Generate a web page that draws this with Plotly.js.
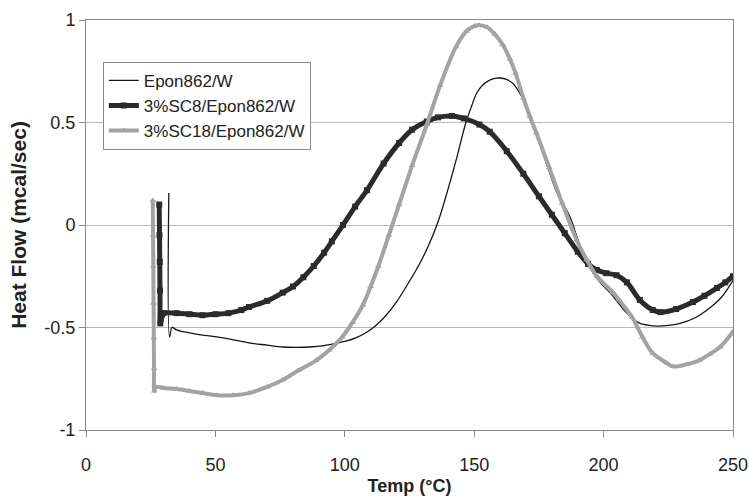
<!DOCTYPE html>
<html>
<head>
<meta charset="utf-8">
<script src="https://cdn.plot.ly/plotly-3.0.1.min.js"></script>
<style>
  html, body { margin: 0; padding: 0; background: #ffffff; }
  #chart { width: 749px; height: 496px; }
</style>
</head>
<body>
<div id="chart"></div>
<script>
// DSC cure exotherms: heat flow versus temperature for three resin systems

// Epon862/W (neat resin)
const eponTemp = [32.0, 32.3, 33.2, 35, 37.5, 43, 50.5, 57, 63, 70, 76, 81, 86.6, 92, 97, 100, 104, 108, 112, 116, 120, 124, 128, 132, 136, 140, 143.5, 146.8, 149, 151, 153.5, 156, 158, 160, 162.5, 165, 167, 169, 171.6, 174, 176, 179, 182, 184.5, 187, 189.5, 192, 196, 199, 202.5, 206, 209, 214, 217, 220.6, 225, 229.5, 235, 241, 245, 248, 250];
const eponFlow = [0.156, -0.546, -0.50, -0.512, -0.52, -0.533, -0.546, -0.56, -0.575, -0.586, -0.595, -0.597, -0.595, -0.588, -0.576, -0.568, -0.552, -0.527, -0.49, -0.44, -0.375, -0.295, -0.21, -0.11, 0.015, 0.18, 0.34, 0.50, 0.58, 0.644, 0.685, 0.707, 0.715, 0.717, 0.71, 0.69, 0.655, 0.61, 0.53, 0.44, 0.37, 0.26, 0.156, 0.10, 0.04, -0.05, -0.137, -0.235, -0.285, -0.33, -0.385, -0.43, -0.48, -0.488, -0.493, -0.49, -0.48, -0.455, -0.405, -0.36, -0.31, -0.27];

// 3%SC8/Epon862/W
const sc8Temp = [28.3, 28.4, 28.5, 28.6, 28.7, 28.9, 29.3, 30, 35, 40, 45, 50, 55, 60, 63, 70, 76, 80, 84, 88, 92, 95, 99.3, 104, 108.6, 115, 121, 126, 131.7, 136, 141.4, 146, 152, 156, 162.6, 169, 175, 180, 185, 190, 194, 197.4, 201, 205, 209, 214, 219, 222, 228, 234.5, 239, 243.8, 247, 250];
const sc8Flow = [0.10, -0.05, -0.18, -0.32, -0.48, -0.46, -0.44, -0.43, -0.43, -0.435, -0.44, -0.435, -0.43, -0.415, -0.40, -0.37, -0.33, -0.30, -0.255, -0.20, -0.135, -0.08, 0.0, 0.09, 0.17, 0.30, 0.40, 0.465, 0.505, 0.525, 0.532, 0.52, 0.49, 0.455, 0.36, 0.25, 0.14, 0.05, -0.04, -0.13, -0.19, -0.22, -0.235, -0.245, -0.28, -0.366, -0.415, -0.425, -0.41, -0.376, -0.345, -0.307, -0.28, -0.25];

// 3%SC18/Epon862/W
const sc18Temp = [25.8, 25.9, 26.0, 26.1, 26.2, 26.3, 26.4, 27, 30, 35, 40, 45, 50.6, 57, 63, 70, 76, 82, 89, 94, 99, 103, 107, 110, 113, 117, 121, 126, 131.7, 136.8, 143, 147, 150, 152, 155, 158, 161, 163.8, 166, 169, 171.5, 174, 179, 184, 189.6, 193.5, 197.4, 203.7, 206, 211, 215, 219, 224.4, 226.8, 232, 237, 241, 245, 250];
const sc18Flow = [0.12, -0.05, -0.2, -0.38, -0.55, -0.7, -0.81, -0.79, -0.795, -0.80, -0.81, -0.82, -0.83, -0.83, -0.82, -0.79, -0.756, -0.71, -0.66, -0.61, -0.546, -0.475, -0.39, -0.30, -0.20, -0.05, 0.10, 0.29, 0.49, 0.68, 0.87, 0.945, 0.97, 0.975, 0.965, 0.93, 0.88, 0.81, 0.74, 0.62, 0.53, 0.45, 0.28, 0.107, -0.073, -0.17, -0.25, -0.33, -0.366, -0.45, -0.546, -0.625, -0.673, -0.69, -0.68, -0.66, -0.63, -0.595, -0.52];

// Axis ticks
const tempTicks = [0, 50, 100, 150, 200, 250];
const tempTickLabels = ['0', '50', '100', '150', '200', '250'];
const flowTicks = [-1, -0.5, 0, 0.5, 1];
const flowTickLabels = ['-1', '-0.5', '0', '0.5', '1'];

const seriesNames = ['Epon862/W', '3%SC8/Epon862/W', '3%SC18/Epon862/W'];

const FONT = 'Liberation Sans, Arial, sans-serif';

const traces = [
  {
    x: eponTemp, y: eponFlow, name: seriesNames[0],
    type: 'scatter', mode: 'lines',
    line: { color: '#151515', width: 1.3, shape: 'spline', smoothing: 1 }
  },
  {
    x: sc8Temp, y: sc8Flow, name: seriesNames[1],
    type: 'scatter', mode: 'lines+markers',
    line: { color: '#2b2b2b', width: 5, shape: 'spline', smoothing: 1 },
    marker: { symbol: 'square', size: 6, color: '#2b2b2b' }
  },
  {
    x: sc18Temp, y: sc18Flow, name: seriesNames[2],
    type: 'scatter', mode: 'lines+markers',
    line: { color: '#a3a3a3', width: 4, shape: 'spline', smoothing: 1 },
    marker: { symbol: 'triangle-up', size: 6, color: '#a3a3a3' }
  }
];

const layout = {
  width: 749, height: 496,
  margin: { l: 86, r: 16, t: 20, b: 66 },
  paper_bgcolor: '#ffffff', plot_bgcolor: '#ffffff',
  font: { family: FONT, size: 18, color: '#222222' },
  showlegend: true,
  legend: {
    x: 0.026, y: 0.898, xanchor: 'left', yanchor: 'top',
    bgcolor: '#ffffff', bordercolor: '#8a8a8a', borderwidth: 1,
    font: { family: FONT, size: 17, color: '#222222' },
    tracegroupgap: 0, itemwidth: 30
  },
  xaxis: {
    range: [0, 250], tickvals: tempTicks, ticktext: tempTickLabels,
    ticks: 'outside', ticklen: 6, tickcolor: '#8a8a8a', tickwidth: 1,
    ticklabelstandoff: 12,
    showline: true, linecolor: '#8a8a8a', linewidth: 1, mirror: true,
    showgrid: false, zeroline: false, automargin: false,
    tickfont: { family: FONT, size: 18, color: '#222222' },
    title: { text: '<b>Temp (°C)</b>', font: { family: FONT, size: 18, color: '#222222' }, standoff: 6 }
  },
  yaxis: {
    range: [-1, 1], tickvals: flowTicks, ticktext: flowTickLabels,
    ticks: 'outside', ticklen: 6, tickcolor: '#8a8a8a', tickwidth: 1,
    showline: true, linecolor: '#8a8a8a', linewidth: 1, mirror: true,
    showgrid: true, gridcolor: '#b8b8b8', gridwidth: 1, zeroline: false, automargin: false,
    tickfont: { family: FONT, size: 18, color: '#222222' },
    title: { text: '<b>Heat Flow (mcal/sec)</b>', font: { family: FONT, size: 21, color: '#222222' }, standoff: 12 }
  }
};

Plotly.newPlot('chart', traces, layout, { staticPlot: true, displayModeBar: false });
</script>
</body>
</html>
